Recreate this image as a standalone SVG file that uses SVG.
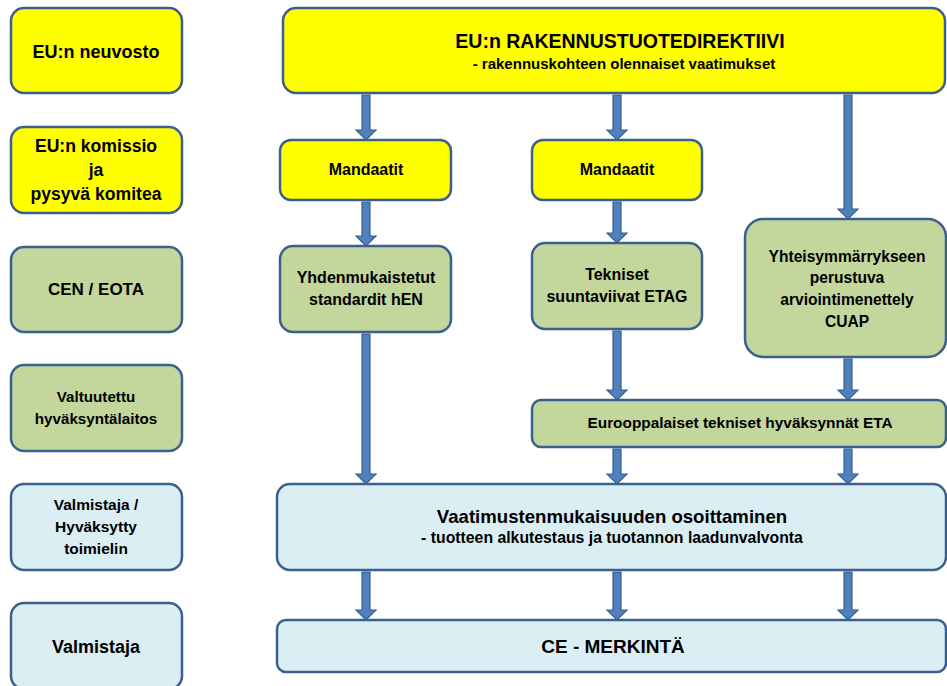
<svg xmlns="http://www.w3.org/2000/svg" width="947" height="686" viewBox="0 0 947 686">
<style>
.box{stroke:#3A6090;stroke-width:2.5}
.y{fill:#FFFF00}
.g{fill:#C3D69B}
.b{fill:#DBEEF4}
text{font-family:"Liberation Sans",Arial,sans-serif;font-weight:bold;fill:#000;text-anchor:middle}
.arr{fill:#4F81BD;stroke:#385D8A;stroke-width:1.2}
</style>
<rect width="947" height="686" fill="#fff"/>
<g id="connectors">
<polygon class="arr" points="362,95 370,95 370,130 376,130 366,140 356,130 362,130"/>
<polygon class="arr" points="613,95 621,95 621,130 627,130 617,140 607,130 613,130"/>
<polygon class="arr" points="844,95 852,95 852,209 858,209 848,219 838,209 844,209"/>
<polygon class="arr" points="362,202 370,202 370,236 376,236 366,246 356,236 362,236"/>
<polygon class="arr" points="613,202 621,202 621,233 627,233 617,243 607,233 613,233"/>
<polygon class="arr" points="362,334 370,334 370,474 376,474 366,484 356,474 362,474"/>
<polygon class="arr" points="613,331 621,331 621,390 627,390 617,400 607,390 613,390"/>
<polygon class="arr" points="844,359 852,359 852,390 858,390 848,400 838,390 844,390"/>
<polygon class="arr" points="613,449 621,449 621,474 627,474 617,484 607,474 613,474"/>
<polygon class="arr" points="844,449 852,449 852,474 858,474 848,484 838,474 844,474"/>
<polygon class="arr" points="362,572 370,572 370,610 376,610 366,620 356,610 362,610"/>
<polygon class="arr" points="613,572 621,572 621,610 627,610 617,620 607,610 613,610"/>
<polygon class="arr" points="844,572 852,572 852,610 858,610 848,620 838,610 844,610"/>
</g>
<g id="neuvosto"><rect class="box y" x="11" y="8" width="171" height="85" rx="13"/><text x="96" y="58" font-size="18">EU:n neuvosto</text></g>
<g id="komissio"><rect class="box y" x="11" y="127" width="171" height="86" rx="13"/><text x="96" y="152" font-size="17.6">EU:n komissio</text><text x="96" y="176" font-size="17.6">ja</text><text x="96" y="200" font-size="17.6">pysyvä komitea</text></g>
<g id="cen"><rect class="box g" x="11" y="247" width="171" height="85" rx="13"/><text x="96" y="295" font-size="17">CEN / EOTA</text></g>
<g id="valtuutettu"><rect class="box g" x="11" y="365" width="171" height="86" rx="13"/><text x="96" y="402" font-size="15.2">Valtuutettu</text><text x="96" y="424" font-size="15.2">hyväksyntälaitos</text></g>
<g id="valmistaja-hyvaksytty"><rect class="box b" x="11" y="484" width="171" height="86" rx="13"/><text x="96" y="510" font-size="15.5">Valmistaja /</text><text x="96" y="532" font-size="15.5">Hyväksytty</text><text x="96" y="554" font-size="15.5">toimielin</text></g>
<g id="valmistaja"><rect class="box b" x="11" y="603" width="171" height="86" rx="13"/><text x="96" y="653" font-size="18">Valmistaja</text></g>
<g id="direktiivi"><rect class="box y" x="283" y="8" width="662" height="85" rx="13"/><text x="620" y="48" font-size="19.5">EU:n RAKENNUSTUOTEDIREKTIIVI</text><text x="624" y="69" font-size="15">- rakennuskohteen olennaiset vaatimukset</text></g>
<g id="mandaatit1"><rect class="box y" x="280" y="140" width="171" height="60" rx="11"/><text x="366" y="175" font-size="16">Mandaatit</text></g>
<g id="mandaatit2"><rect class="box y" x="532" y="140" width="170" height="60" rx="11"/><text x="617" y="175" font-size="16">Mandaatit</text></g>
<g id="hen"><rect class="box g" x="280" y="246" width="171" height="86" rx="13"/><text x="366" y="283" font-size="16">Yhdenmukaistetut</text><text x="366" y="305" font-size="16">standardit hEN</text></g>
<g id="etag"><rect class="box g" x="532" y="243" width="170" height="86" rx="13"/><text x="617" y="280" font-size="16">Tekniset</text><text x="617" y="302" font-size="16">suuntaviivat ETAG</text></g>
<g id="cuap"><rect class="box g" x="745" y="219" width="201" height="138" rx="18"/><text x="847" y="262" font-size="15.6">Yhteisymmärrykseen</text><text x="847" y="283" font-size="15.6">perustuva</text><text x="847" y="305" font-size="15.6">arviointimenettely</text><text x="847" y="327" font-size="15.6">CUAP</text></g>
<g id="eta"><rect class="box g" x="532" y="400" width="414" height="47" rx="9"/><text x="740" y="428" font-size="15.4">Eurooppalaiset  tekniset hyväksynnät ETA</text></g>
<g id="vaatimusten"><rect class="box b" x="277" y="484" width="669" height="86" rx="13"/><text x="612" y="523" font-size="18.6">Vaatimustenmukaisuuden osoittaminen</text><text x="612" y="543" font-size="15.8">- tuotteen alkutestaus ja tuotannon  laadunvalvonta</text></g>
<g id="ce"><rect class="box b" x="277" y="620" width="669" height="52" rx="9"/><text x="613" y="653" font-size="19">CE - MERKINTÄ</text></g>
</svg>
